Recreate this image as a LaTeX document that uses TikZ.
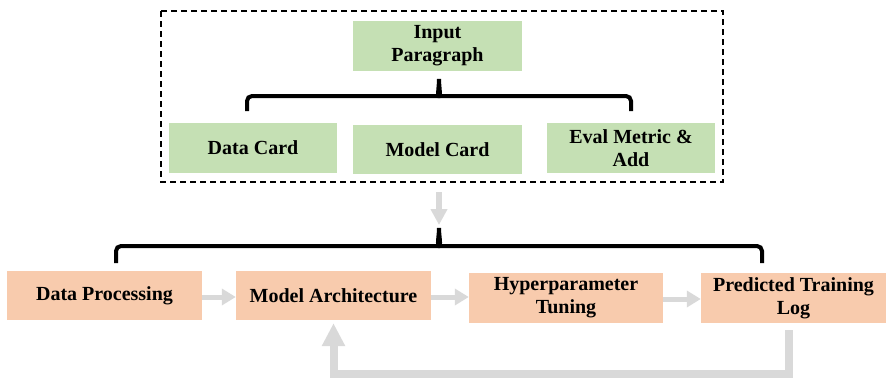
\documentclass[tikz,border=0pt]{standalone}
\usepackage{fontspec}
\setmainfont{Liberation Serif}
\usetikzlibrary{arrows.meta,positioning}
\definecolor{boxgreen}{HTML}{C5E0B4}
\definecolor{boxorange}{HTML}{F8CBAD}
\definecolor{arrowgray}{HTML}{D9D9D9}
\tikzset{
  card/.style={fill=boxgreen, draw=none, inner sep=0pt, align=center,
    font=\fontsize{20}{23}\selectfont\bfseries},
  stage/.style={fill=boxorange, draw=none, inner sep=0pt, align=center,
    font=\fontsize{20}{23}\selectfont\bfseries},
  bracepath/.style={draw=black, line width=4pt, rounded corners=5pt},
  flow/.style={draw=arrowgray, line width=5pt, -{Triangle[length=14pt,width=16pt]}},
  feedback/.style={draw=arrowgray, line width=8pt, -{Triangle[length=23pt,width=22pt]}},
  frame/.style={draw=black, line width=1.5pt, dash pattern=on 6pt off 4pt}
}
\begin{document}
\begin{tikzpicture}[x=1pt,y=-1pt]
\useasboundingbox (0,0) rectangle (886,380);

% dashed frame
\draw[frame] (161,11) rectangle (723,182);
\coordinate (framebottom) at (439,182);

% green cards
\node[card, minimum width=169pt, minimum height=50pt] (input) at (437.5,46) {Input\\Paragraph};
\node[card, minimum width=168pt, minimum height=50pt] (data) at (253,148) {Data Card};
\node[card, minimum width=169pt, minimum height=49pt] (model) at (437.5,149.5) {Model Card};
\node[card, minimum width=168pt, minimum height=50pt] (eval) at (631,148) {Eval Metric \&\\Add};

% upper brace
\coordinate (ubl) at (247,111);
\coordinate (ubr) at (631,111);
\coordinate (ubt) at (439,79);
\draw[bracepath] (ubl) -- (247,96) -- (434,96) to[out=0,in=-90] (ubt);
\draw[bracepath] (ubr) -- (631,96) -- (444,96) to[out=180,in=-90] (ubt);

% orange stages
\node[stage, minimum width=195pt, minimum height=49pt] (proc) at (104.5,295.5) {Data Processing};
\node[stage, minimum width=195pt, minimum height=49pt] (arch) at (333.5,295.5) {Model Architecture};
\node[stage, minimum width=194pt, minimum height=50pt] (hyper) at (566,298) {Hyperparameter\\Tuning};
\node[stage, minimum width=185pt, minimum height=50pt] (pred) at (793.5,298) {Predicted Training\\Log};

% lower brace
\coordinate (lbl) at (116,263);
\coordinate (lbr) at (762,263);
\coordinate (lbt) at (439,228);
\draw[bracepath] (lbl) -- (116,246) -- (434,246) to[out=0,in=-90] (lbt);
\draw[bracepath] (lbr) -- (762,246) -- (444,246) to[out=180,in=-90] (lbt);

% arrow from frame to lower brace
\draw[draw=arrowgray, line width=6pt, -{Triangle[length=16pt,width=16pt]}]
  ([yshift=-10pt]framebottom) -- ([yshift=3pt]lbt);

% flow arrows
\draw[flow] ([yshift=-1.5pt]proc.east) -- ([yshift=-1.5pt]proc.east -| arch.west);
\draw[flow] ([yshift=-1.5pt]arch.east) -- ([yshift=-1.5pt]arch.east -| hyper.west);
\draw[flow] ([yshift=-1pt]hyper.east) -- ([yshift=-1pt]hyper.east -| pred.west);

% feedback loop
\draw[feedback] ([xshift=-4.5pt,yshift=-7pt]pred.south) -- ++(0,44) -| ([yshift=-3pt]arch.south);
\end{tikzpicture}
\end{document}
